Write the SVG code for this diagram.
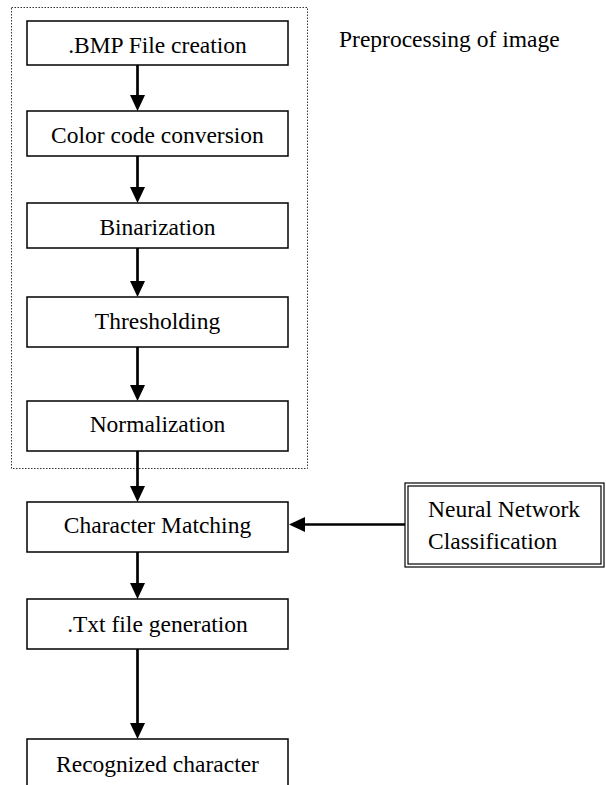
<svg xmlns="http://www.w3.org/2000/svg" width="606" height="785" viewBox="0 0 606 785">
<style>
.box{fill:#fff;stroke:#000;stroke-width:1.5}
.nn{fill:none;stroke:#000;stroke-width:1.2}
.lbl{font-family:"Liberation Serif","Times New Roman",serif;font-size:23.5px;fill:#000}
.c{text-anchor:middle}
.conn{stroke:#000;stroke-width:2.7;fill:none;marker-end:url(#ah)}
.group{fill:none;stroke:#333;stroke-width:1;stroke-dasharray:1.5 1.5}
</style>
<defs>
<marker id="ah" viewBox="0 0 16 15" refX="6" refY="7.5" markerWidth="16" markerHeight="15" markerUnits="userSpaceOnUse" orient="auto">
<path d="M0,0 L16,7.5 L0,15 z" fill="#000"/>
</marker>
</defs>
<rect id="preprocessing-group" class="group" x="11.5" y="7.5" width="296" height="461"/>
<g id="preprocessing-label"><text class="lbl" x="339" y="47">Preprocessing of image</text></g>
<g id="connectors">
<line class="conn" x1="137.5" y1="65" x2="137.5" y2="101"/>
<line class="conn" x1="137.5" y1="156" x2="137.5" y2="193"/>
<line class="conn" x1="137.5" y1="248" x2="137.5" y2="287"/>
<line class="conn" x1="137.5" y1="347" x2="137.5" y2="391"/>
<line class="conn" x1="137.5" y1="451" x2="137.5" y2="492"/>
<line class="conn" x1="137.5" y1="552" x2="137.5" y2="589"/>
<line class="conn" x1="137.5" y1="649" x2="137.5" y2="729"/>
<line class="conn" x1="405" y1="524.5" x2="299" y2="524.5"/>
</g>
<g id="bmp"><rect class="box" x="27" y="21" width="261" height="44"/><text class="lbl c" x="157.5" y="53">.BMP File creation</text></g>
<g id="color"><rect class="box" x="27" y="111" width="261" height="45"/><text class="lbl c" x="157.5" y="143">Color code conversion</text></g>
<g id="binarization"><rect class="box" x="27" y="203" width="261" height="45"/><text class="lbl c" x="157.5" y="235">Binarization</text></g>
<g id="thresholding"><rect class="box" x="27" y="297" width="261" height="50"/><text class="lbl c" x="157.5" y="329">Thresholding</text></g>
<g id="normalization"><rect class="box" x="27" y="401" width="261" height="50"/><text class="lbl c" x="157.5" y="432">Normalization</text></g>
<g id="matching"><rect class="box" x="27" y="502" width="261" height="50"/><text class="lbl c" x="157.5" y="533">Character Matching</text></g>
<g id="txt"><rect class="box" x="27" y="599" width="261" height="50"/><text class="lbl c" x="157.5" y="632">.Txt file generation</text></g>
<g id="recognized"><rect class="box" x="27" y="739" width="261" height="70"/><text class="lbl c" x="157.5" y="772">Recognized character</text></g>
<g id="neural"><rect class="nn" x="405" y="483" width="199" height="84"/><rect class="nn" x="408" y="486" width="193" height="78"/><text class="lbl" x="428" y="517">Neural Network</text><text class="lbl" x="428" y="549">Classification</text></g>
</svg>
